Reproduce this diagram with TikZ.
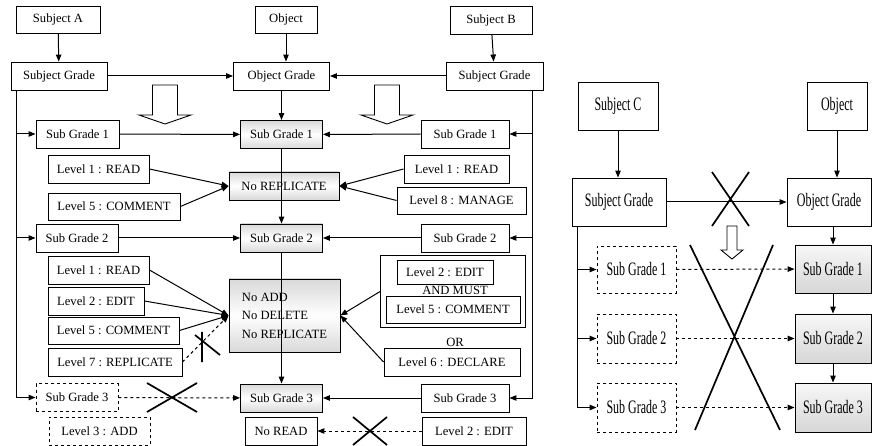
\documentclass[tikz,border=0pt]{standalone}
\usepackage{fontspec}
\setmainfont{Liberation Serif}
\newfontfamily\condserif[FakeStretch=0.63]{Liberation Serif}
\usetikzlibrary{positioning,fit,calc,arrows.meta}

\begin{document}
\begin{tikzpicture}[
			x=1pt, y=-1pt,
			line width=1pt,
			>={Triangle[length=7pt,width=5.5pt]},
			every node/.style={font=\fontsize{12.6}{14}\selectfont},
			box/.style={rectangle, draw, line width=0.9pt, minimum height=28, inner sep=2pt},
			dbox/.style={box, dashed},
			gbox/.style={box, top color=gray!30, bottom color=gray!30, middle color=white},
			rbox/.style={box, font=\condserif\fontsize{19}{22}\selectfont, minimum height=48},
			rgbox/.style={rbox, top color=gray!6, bottom color=gray!32},
			crossline/.style={line width=1.7pt}
	]
		\useasboundingbox (0,0) rectangle (873,446);

		% left diagram
		\node (subA) [box, minimum width=84, minimum height=27] at (58,19.5) {Subject A};
		\node (objL) [box, minimum width=62, minimum height=27] at (286,19.5) {Object};
		\node (subB) [box, minimum width=82] at (491,20) {Subject B};
		\node (sgA) [box, minimum width=96] at (59,76) {Subject Grade};
		\node (og) [box, minimum width=96] at (281.5,76) {Object Grade};
		\node (sgB) [box, minimum width=97] at (494.5,76) {Subject Grade};

		\node (a1) [box, minimum width=83] at (77.5,134) {Sub Grade 1};
		\node (c1) [gbox, minimum width=82] at (281.5,134.5) {Sub Grade 1};
		\node (b1) [box, minimum width=88] at (465,134) {Sub Grade 1};
		\node (aRead1) [box, minimum width=101] at (98.5,169) {Level 1 : READ};
		\node (aCom1) [box, minimum width=132, minimum height=27] at (114,206.5) {Level 5 : COMMENT};
		\node (norep) [gbox, minimum width=110] at (284,186) {No REPLICATE};
		\node (bRead1) [box, minimum width=105] at (456.5,169) {Level 1 : READ};
		\node (bMan) [box, minimum width=129, minimum height=27] at (461.5,200.5) {Level 8 : MANAGE};

		\node (a2) [box, minimum width=82] at (77,238) {Sub Grade 2};
		\node (c2) [gbox, minimum width=82] at (281.5,238) {Sub Grade 2};
		\node (b2) [box, minimum width=88] at (465,238) {Sub Grade 2};
		\node (aRead2) [box, minimum width=101] at (98.5,270) {Level 1 : READ};
		\node (aEdit) [box, minimum width=96] at (96,301) {Level 2 : EDIT};
		\node (aCom2) [box, minimum width=131, minimum height=27] at (113.5,330.5) {Level 5 : COMMENT};
		\node (aRep) [box, minimum width=134] at (115,362) {Level 7 : REPLICATE};
		\node (noadd) [gbox, minimum width=111, minimum height=73, align=left,
			font=\fontsize{12.6}{18.5}\selectfont] at (284.5,315.5) {No ADD\\No DELETE\\No REPLICATE};
		\node (bEdit) [box, minimum width=96, minimum height=24] at (445,272) {Level 2 : EDIT};
		\node (andmust) at (455,290) {AND MUST};
		\node (bCom) [box, minimum width=134, minimum height=27] at (453,309.5) {Level 5 : COMMENT};
		\node (mustgrp) [draw, line width=0.9pt, inner xsep=5, inner ysep=4, fit={(bEdit) (bCom)}] {};
		\node (or) at (455,342) {OR};
		\node (bDec) [box, minimum width=136] at (452,362) {Level 6 : DECLARE};

		\node (a3) [dbox, minimum width=82] at (77,397.5) {Sub Grade 3};
		\node (c3) [gbox, minimum width=82] at (281.5,398) {Sub Grade 3};
		\node (b3) [box, minimum width=88] at (465,398) {Sub Grade 3};
		\node (aAdd) [dbox, minimum width=101] at (99.5,431) {Level 3 : ADD};
		\node (noread) [box, minimum width=72] at (281,431) {No READ};
		\node (bEdit2) [box, minimum width=104] at (474,431) {Level 2 : EDIT};

		\draw [->] (subA) -- (sgA);
		\draw [->] (objL) -- (objL |- og.north);
		\draw [->] (subB) -- (sgB);
		\draw [->] (sgA) -- (og);
		\draw [->] (sgB) -- (og);
		\draw [->] (og) -- (c1);
		\draw [->] (a1) -- (c1);
		\draw [->] (b1) -- (c1);
		\draw [->] (c1) -- (c2);
		\draw [->] (a2) -- (c2);
		\draw [->] (b2) -- (c2);
		\draw [->] (c2) -- (c3);
		\draw [->] (b3) -- (c3);

		\coordinate (spA) at ($(sgA.south west)+(6.3,0)$);
		\coordinate (spB) at ($(sgB.south east)+(-11,0)$);
		\foreach \n in {a1,a2,a3} \draw [->] (spA) |- (\n);
		\foreach \n in {b1,b2,b3} \draw [->] (spB) |- (\n);

		\draw [->] (aRead1.east) -- (norep.west);
		\draw [->] (aCom1.east) -- (norep.west);
		\draw [->] (bRead1.west) -- (norep.east);
		\draw [->] (bMan.west) -- (norep.east);
		\draw [->] (aRead2.east) -- (noadd.west);
		\draw [->] (aEdit.east) -- (noadd.west);
		\draw [->] (aCom2.east) -- (noadd.west);
		\draw [->,dashed] (aRep.east) -- (noadd.west);
		\draw [->] (mustgrp.west) -- (noadd.east);
		\draw [->] (bDec.west) -- (noadd.east);
		\draw [->,dashed] (a3) -- (c3);
		\draw [->,dashed] (bEdit2) -- (noread);

		% crosses
		\draw [crossline] (195,335) -- (220,355) (202,332) -- (202,362);
		\draw [crossline] (147,383) -- (197,412) (147,412) -- (197,383);
		\draw [crossline] (353,417) -- (387,445) (353,445) -- (387,417);

		% hollow arrows
		\foreach \hx in {165,387}
			\draw [line width=0.9pt] (\hx-12.5,85) -- (\hx+12.5,85) -- (\hx+12.5,115) -- (\hx+26,115)
				-- (\hx,124) -- (\hx-26,115) -- (\hx-12.5,115) -- cycle;

		% right diagram
		\node (subC) [rbox, minimum width=80] at (618,106) {Subject C};
		\node (objR) [rbox, minimum width=60] at (837,106) {Object};
		\node (sgC) [rbox, minimum width=94] at (619,202) {Subject Grade};
		\node (ogR) [rbox, minimum width=84] at (829,202) {Object Grade};
		\node (d1) [rbox, dashed, minimum width=79, minimum height=47] at (636.5,269.5) {Sub Grade 1};
		\node (d2) [rbox, dashed, minimum width=79, minimum height=49] at (636.5,338.5) {Sub Grade 2};
		\node (d3) [rbox, dashed, minimum width=79, minimum height=49] at (636.5,407.5) {Sub Grade 3};
		\node (r1) [rgbox, minimum width=76] at (833,269) {Sub Grade 1};
		\node (r2) [rgbox, minimum width=76, minimum height=49] at (833,338.5) {Sub Grade 2};
		\node (r3) [rgbox, minimum width=76, minimum height=49] at (833,407.5) {Sub Grade 3};

		\draw [->] (subC) -- (subC |- sgC.north);
		\draw [->] (objR) -- (objR |- ogR.north);
		\draw [->] (sgC) -- (ogR);
		\draw [->] (r1 |- ogR.south) -- (r1);
		\draw [->] (r1) -- (r2);
		\draw [->] (r2) -- (r3);
		\coordinate (spC) at ($(sgC.south west)+(6,0)$);
		\foreach \n in {d1,d2,d3} \draw [->] (spC) |- (\n);
		\draw [->,dashed] (d1) -- (r1);
		\draw [->,dashed] (d2) -- (r2);
		\draw [->,dashed] (d3) -- (r3);

		\draw [crossline] (712,172) -- (749,226) (749,172) -- (712,226);
		\draw [crossline] (690,245) -- (780,430) (773,245) -- (695,430);
		\draw [line width=0.9pt] (727,226) -- (737,226) -- (737,250) -- (743,250)
			-- (732,259) -- (721,250) -- (727,250) -- cycle;
	\end{tikzpicture}
\end{document}
